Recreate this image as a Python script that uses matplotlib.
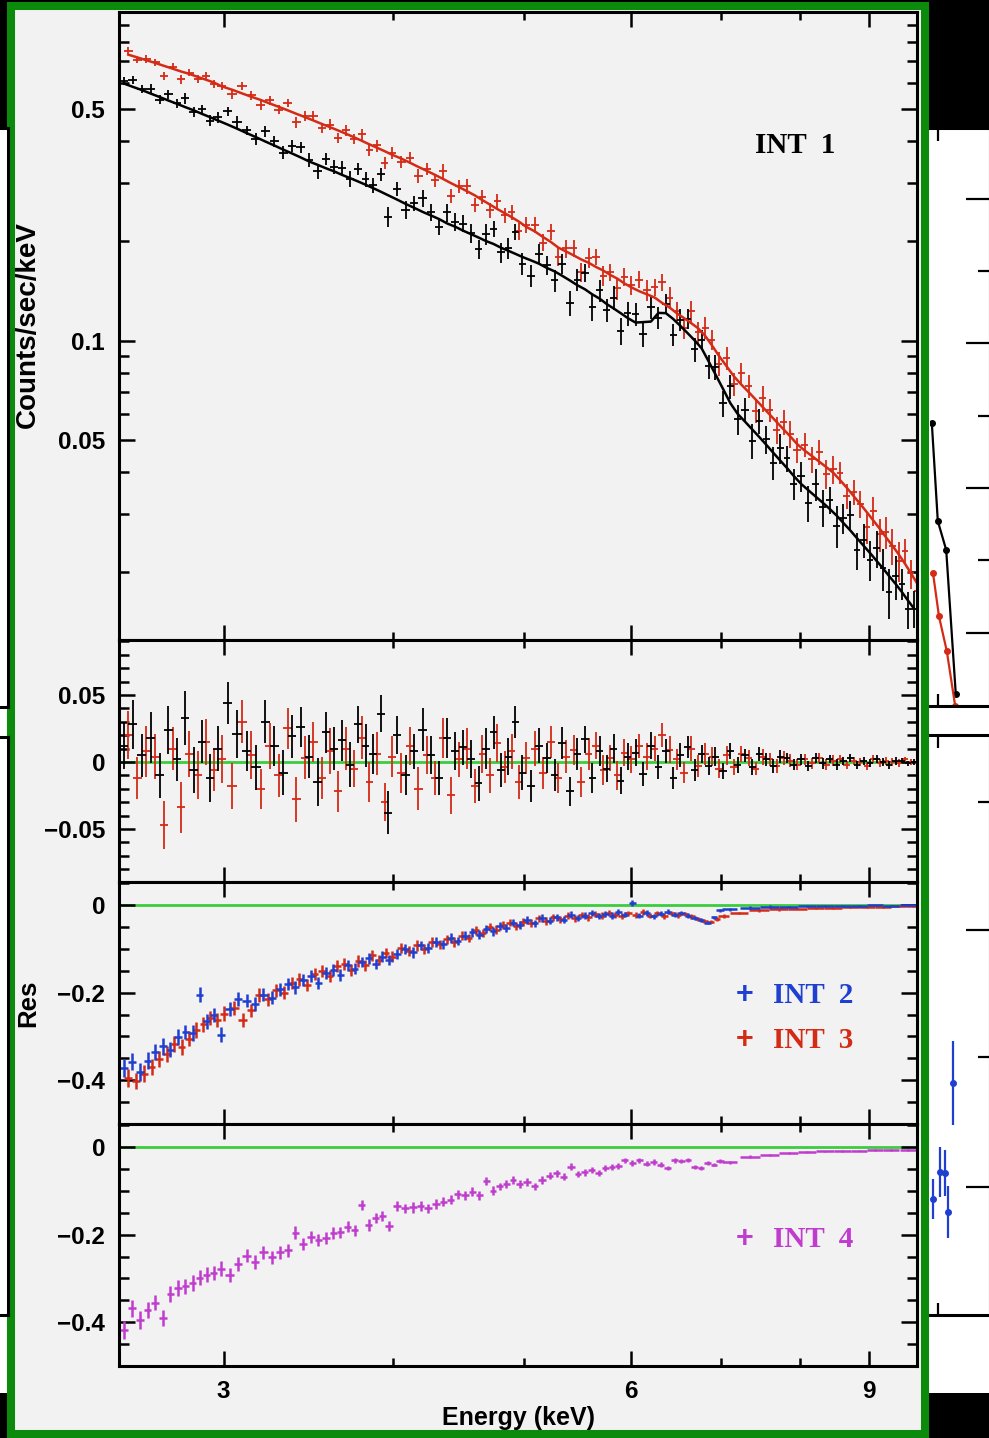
import numpy as np
import matplotlib
matplotlib.use("Agg")
import matplotlib.pyplot as plt
from matplotlib.patches import Rectangle
from matplotlib.ticker import FixedLocator, FixedFormatter, NullFormatter

# Energias (keV) de los canales INT 1, camara "negra"
energia1 = [2.53, 2.57, 2.61, 2.65, 2.69, 2.73, 2.77, 2.81, 2.85, 2.89, 2.93, 2.97,
            3.02, 3.07, 3.12, 3.17, 3.22, 3.27, 3.32, 3.37, 3.42, 3.47, 3.52, 3.57,
            3.62, 3.67, 3.72, 3.77, 3.82, 3.87, 3.92, 3.97,
            4.03, 4.09, 4.15, 4.21, 4.27, 4.33, 4.39, 4.45, 4.51, 4.57, 4.63, 4.69,
            4.75, 4.81, 4.87, 4.93, 4.99,
            5.06, 5.13, 5.20, 5.27, 5.34, 5.41, 5.48, 5.55, 5.62, 5.69, 5.76, 5.83, 5.90, 5.97,
            6.05, 6.13, 6.21, 6.29, 6.37, 6.45, 6.53, 6.61, 6.69, 6.77, 6.85, 6.93,
            7.02, 7.11, 7.20, 7.29, 7.38, 7.47, 7.56, 7.65, 7.74, 7.83, 7.92,
            8.02, 8.12, 8.22, 8.32, 8.42, 8.52, 8.62, 8.72, 8.82, 8.92, 9.02, 9.12,
            9.22, 9.32, 9.42, 9.52, 9.62, 9.72]
# canales de la camara "roja"
energia_roja = [2.55, 2.59, 2.63, 2.67, 2.71, 2.75, 2.79, 2.83, 2.87, 2.91, 2.95, 2.99,
                3.045, 3.095, 3.145, 3.195, 3.245, 3.295, 3.345, 3.395, 3.445, 3.495, 3.545, 3.595,
                3.645, 3.695, 3.745, 3.795, 3.845, 3.895, 3.945, 3.995,
                4.06, 4.12, 4.18, 4.24, 4.30, 4.36, 4.42, 4.48, 4.54, 4.60, 4.66, 4.72,
                4.78, 4.84, 4.90, 4.96, 5.02,
                5.095, 5.165, 5.235, 5.305, 5.375, 5.445, 5.515, 5.585, 5.655, 5.725, 5.795,
                5.865, 5.935, 6.005,
                6.09, 6.17, 6.25, 6.33, 6.41, 6.49, 6.57, 6.65, 6.73, 6.81, 6.89, 6.97,
                7.065, 7.155, 7.245, 7.335, 7.425, 7.515, 7.605, 7.695, 7.785, 7.875, 7.965,
                8.07, 8.17, 8.27, 8.37, 8.47, 8.57, 8.67, 8.77, 8.87, 8.97, 9.07, 9.17,
                9.27, 9.37, 9.47, 9.57, 9.67, 9.77]

# Modelo (counts/sec/keV)
modelo_negro = [0.599, 0.585, 0.572, 0.558, 0.545, 0.532, 0.520, 0.508, 0.497, 0.485, 0.474, 0.463,
                0.450, 0.437, 0.424, 0.412, 0.400, 0.389, 0.378, 0.368, 0.358, 0.348, 0.340, 0.332,
                0.325, 0.317, 0.310, 0.303, 0.296, 0.289, 0.282, 0.275,
                0.267, 0.259, 0.252, 0.245, 0.239, 0.233, 0.226, 0.221, 0.215, 0.210, 0.205, 0.200,
                0.196, 0.191, 0.187, 0.183, 0.179,
                0.175, 0.171, 0.166, 0.162, 0.157, 0.152, 0.147, 0.143, 0.138, 0.134, 0.129, 0.125,
                0.121, 0.117,
                0.1134, 0.1138, 0.1142, 0.1213, 0.1211, 0.1163, 0.1108, 0.1054, 0.1002, 0.0948,
                0.0867, 0.0792,
                0.0716, 0.0647, 0.0600, 0.0569, 0.0539, 0.0511, 0.0484, 0.0458, 0.0434, 0.0412, 0.0390,
                0.0369, 0.0353, 0.0338, 0.0324, 0.0310, 0.0296, 0.0281, 0.0267, 0.0253, 0.0240,
                0.0228, 0.0216, 0.0205, 0.0194, 0.0184, 0.0174, 0.0164, 0.0155]
modelo_rojo = [0.732, 0.718, 0.704, 0.691, 0.677, 0.664, 0.651, 0.640, 0.627, 0.615, 0.603, 0.587,
               0.573, 0.559, 0.546, 0.534, 0.521, 0.509, 0.497, 0.485, 0.474, 0.463, 0.452, 0.442,
               0.432, 0.422, 0.412, 0.402, 0.392, 0.383, 0.374, 0.365,
               0.355, 0.345, 0.335, 0.326, 0.317, 0.308, 0.299, 0.291, 0.283, 0.275, 0.266, 0.258,
               0.250, 0.243, 0.236, 0.229, 0.221,
               0.214, 0.206, 0.199, 0.191, 0.186, 0.181, 0.176, 0.172, 0.167, 0.163, 0.158, 0.154,
               0.149, 0.145,
               0.141, 0.138, 0.135, 0.130, 0.126, 0.121, 0.117, 0.113, 0.109, 0.1035, 0.0968, 0.0902,
               0.0836, 0.0779, 0.0736, 0.0699, 0.0663, 0.0629, 0.0597, 0.0567, 0.0539, 0.0513, 0.0487,
               0.0465, 0.0448, 0.0431, 0.0415, 0.0399, 0.0379, 0.0359, 0.0339, 0.0321, 0.0303,
               0.0286, 0.0270, 0.0254, 0.0240, 0.0226, 0.0212, 0.0198, 0.0185]

res_negro = [0.012, 0.028, 0.005, 0.018, -0.010, 0.024, 0.002, 0.033, -0.006, 0.015, -0.012, 0.010,
             0.044, 0.021, 0.008, -0.004, 0.030, 0.012, -0.008, 0.019, 0.026, 0.004, -0.015, 0.022,
             0.010, 0.016, -0.002, 0.028, 0.012, 0.006, 0.036, -0.038,
             0.020, -0.010, 0.008, 0.024, 0.005, -0.012, 0.018, 0.008, 0.011, 0.002, -0.016, 0.010,
             0.022, -0.006, 0.004, 0.030, -0.008,
             -0.018, 0.012, 0.003, -0.010, 0.014, -0.022, 0.006, 0.017, -0.012, 0.008, -0.005,
             0.010, -0.014, 0.004,
             0.007, -0.009, 0.012, -0.004, 0.008, -0.012, 0.005, 0.011, -0.006, 0.006, -0.003, 0.004,
             -0.007, 0.008, -0.002, 0.005, -0.004, 0.006, 0.002, -0.003, 0.004, 0.003, -0.002,
             0.002, -0.003, 0.003, -0.001, 0.002, -0.002, 0.001, 0.003, -0.002, 0.001, -0.001,
             0.002, 0.000, -0.002, 0.001, 0.001, -0.001, 0.000]
res_rojo = [0.020, -0.012, 0.008, 0.004, -0.047, 0.010, -0.034, 0.006, -0.010, 0.015, -0.006, 0.002,
            -0.018, 0.030, 0.005, -0.020, 0.012, -0.010, 0.025, -0.028, 0.003, 0.015, -0.012, 0.008,
            -0.022, 0.010, -0.005, 0.018, -0.015, 0.006, -0.030, 0.004,
            -0.008, 0.012, -0.020, 0.005, -0.012, 0.018, -0.025, 0.002, 0.010, -0.018, 0.006, -0.010,
            0.014, -0.004, 0.008, -0.015, 0.003,
            0.010, -0.008, 0.015, -0.012, 0.004, 0.009, -0.015, 0.006, 0.012, -0.006, 0.003,
            -0.010, 0.007, 0.002,
            0.012, 0.004, 0.010, 0.020, 0.009, 0.002, -0.008, 0.010, -0.003, 0.006, 0.004, -0.005,
            0.005, -0.004, 0.006, 0.003, -0.005, 0.004, 0.002, -0.003, 0.003, 0.001, -0.002,
            0.002, -0.001, 0.003, -0.002, 0.001, 0.002, -0.002, 0.001, 0.000, -0.003, 0.002,
            -0.001, 0.001, 0.000, -0.001, 0.002, 0.000, -0.001]
err_negro = [0.017, 0.018, 0.016, 0.019, 0.017, 0.018, 0.016, 0.020, 0.017, 0.016, 0.018, 0.017,
             0.016, 0.018, 0.015, 0.017, 0.016, 0.015, 0.017, 0.016, 0.015, 0.016, 0.018, 0.015,
             0.016, 0.015, 0.017, 0.014, 0.016, 0.015, 0.014, 0.016,
             0.014, 0.015, 0.013, 0.016, 0.014, 0.013, 0.015, 0.014, 0.013, 0.014, 0.013, 0.015,
             0.012, 0.013, 0.014, 0.012, 0.013,
             0.012, 0.013, 0.011, 0.012, 0.012, 0.011, 0.012, 0.010, 0.011, 0.011, 0.010, 0.011,
             0.010, 0.010,
             0.010, 0.009, 0.010, 0.009, 0.009, 0.008, 0.009, 0.008, 0.008, 0.007, 0.007, 0.007,
             0.006, 0.006, 0.006, 0.005, 0.006, 0.005, 0.005, 0.005, 0.005, 0.004, 0.004,
             0.004, 0.004, 0.004, 0.004, 0.003, 0.004, 0.003, 0.003, 0.003, 0.003, 0.003,
             0.003, 0.003, 0.003, 0.003, 0.002, 0.002, 0.002]
err_rojo = [0.018, 0.016, 0.019, 0.017, 0.018, 0.016, 0.019, 0.017, 0.018, 0.017, 0.016, 0.018,
            0.017, 0.016, 0.018, 0.015, 0.017, 0.016, 0.015, 0.017, 0.016, 0.015, 0.016, 0.017,
            0.015, 0.016, 0.014, 0.016, 0.015, 0.016, 0.014, 0.015,
            0.015, 0.014, 0.016, 0.014, 0.013, 0.015, 0.014, 0.013, 0.015, 0.013, 0.014, 0.013,
            0.014, 0.012, 0.013, 0.013, 0.012,
            0.013, 0.012, 0.012, 0.011, 0.012, 0.011, 0.011, 0.012, 0.010, 0.011, 0.010, 0.011,
            0.010, 0.010,
            0.009, 0.010, 0.009, 0.009, 0.010, 0.008, 0.008, 0.009, 0.008, 0.008, 0.007, 0.007,
            0.007, 0.006, 0.006, 0.006, 0.005, 0.006, 0.005, 0.005, 0.005, 0.005, 0.004,
            0.004, 0.004, 0.004, 0.004, 0.004, 0.003, 0.003, 0.003, 0.003, 0.003, 0.003,
            0.003, 0.003, 0.003, 0.003, 0.002, 0.002, 0.002]

# Energias de los residuos INT 2 / INT 4 y de INT 3
energia2 = [2.53, 2.565, 2.60, 2.635, 2.67, 2.705, 2.74, 2.775, 2.81, 2.845, 2.88, 2.915, 2.95, 2.985,
            3.03, 3.075, 3.12, 3.165, 3.21, 3.255, 3.30, 3.345, 3.39, 3.435, 3.48, 3.525, 3.57,
            3.615, 3.66, 3.705, 3.75, 3.795, 3.84, 3.885, 3.93, 3.975,
            4.03, 4.085, 4.14, 4.195, 4.25, 4.305, 4.36, 4.415, 4.47, 4.525, 4.58, 4.635, 4.69,
            4.745, 4.80, 4.855, 4.91, 4.965,
            5.03, 5.095, 5.16, 5.225, 5.29, 5.355, 5.42, 5.485, 5.55, 5.615, 5.68, 5.745, 5.81,
            5.875, 5.94,
            6.015, 6.09, 6.165, 6.24, 6.315, 6.39, 6.465, 6.54, 6.615, 6.69, 6.765, 6.84, 6.915, 6.99,
            7.1, 7.35, 7.6, 7.85, 8.1, 8.35, 8.6, 8.85, 9.1, 9.35, 9.62]
energia3 = [2.548, 2.583, 2.618, 2.653, 2.688, 2.723, 2.758, 2.793, 2.828, 2.863, 2.898, 2.933,
            2.968, 3.003,
            3.053, 3.098, 3.143, 3.188, 3.233, 3.278, 3.323, 3.368, 3.413, 3.458, 3.503, 3.548,
            3.593, 3.638, 3.683, 3.728, 3.773, 3.818, 3.863, 3.908, 3.953, 3.998,
            4.058, 4.113, 4.168, 4.223, 4.278, 4.333, 4.388, 4.443, 4.498, 4.553, 4.608, 4.663,
            4.718, 4.773, 4.828, 4.883, 4.938, 4.993,
            5.063, 5.128, 5.193, 5.258, 5.323, 5.388, 5.453, 5.518, 5.583, 5.648, 5.713, 5.778,
            5.843, 5.908, 5.973,
            6.053, 6.128, 6.203, 6.278, 6.353, 6.428, 6.503, 6.578, 6.653, 6.728, 6.803, 6.878,
            6.953, 7.028,
            7.22, 7.47, 7.72, 7.97, 8.22, 8.47, 8.72, 8.97, 9.22, 9.47, 9.70]
res_int2 = [-0.372, -0.358, -0.381, -0.355, -0.336, -0.323, -0.330, -0.302, -0.290, -0.292, -0.205,
            -0.265, -0.250, -0.296,
            -0.238, -0.215, -0.218, -0.226, -0.205, -0.212, -0.192, -0.180, -0.188, -0.172, -0.162,
            -0.178, -0.155, -0.148, -0.160, -0.138, -0.145, -0.130, -0.122, -0.135, -0.118, -0.125,
            -0.112, -0.100, -0.108, -0.092, -0.098, -0.085, -0.090, -0.075, -0.082, -0.070, -0.062,
            -0.068, -0.055, -0.060, -0.048, -0.052, -0.040, -0.045,
            -0.035, -0.042, -0.030, -0.036, -0.028, -0.034, -0.022, -0.030, -0.025, -0.018, -0.026,
            -0.020, -0.024, -0.016, -0.022,
            0.005, -0.024, -0.018, -0.026, -0.020, -0.015, -0.022, -0.018, -0.024, -0.030, -0.034,
            -0.040, -0.028, -0.012,
            -0.010, -0.006, -0.004, -0.004, -0.003, -0.002, -0.002, -0.002, -0.001, -0.002, -0.001]
res_int3 = [-0.395, -0.402, -0.385, -0.370, -0.352, -0.340, -0.318, -0.325, -0.305, -0.285, -0.272,
            -0.258, -0.262, -0.248,
            -0.235, -0.262, -0.240, -0.205, -0.215, -0.195, -0.200, -0.178, -0.170, -0.182, -0.158,
            -0.150, -0.162, -0.140, -0.135, -0.148, -0.128, -0.138, -0.115, -0.125, -0.110, -0.118,
            -0.098, -0.105, -0.092, -0.100, -0.085, -0.090, -0.078, -0.085, -0.070, -0.075, -0.058,
            -0.064, -0.050, -0.056, -0.045, -0.040, -0.047, -0.038,
            -0.042, -0.030, -0.036, -0.028, -0.032, -0.024, -0.030, -0.022, -0.028, -0.020, -0.024,
            -0.018, -0.022, -0.026, -0.019,
            -0.022, -0.016, -0.024, -0.019, -0.025, -0.018, -0.023, -0.020, -0.026, -0.032, -0.036,
            -0.038, -0.032, -0.025,
            -0.018, -0.012, -0.010, -0.008, -0.006, -0.007, -0.005, -0.005, -0.004, -0.003, -0.003]
res_int4 = [-0.418, -0.368, -0.395, -0.372, -0.355, -0.390, -0.335, -0.322, -0.318, -0.310, -0.298,
            -0.292, -0.288, -0.278,
            -0.292, -0.268, -0.248, -0.262, -0.240, -0.252, -0.240, -0.236, -0.196, -0.222, -0.205,
            -0.212, -0.208, -0.196, -0.195, -0.182, -0.190, -0.132, -0.178, -0.162, -0.158, -0.180,
            -0.135, -0.140, -0.138, -0.135, -0.140, -0.130, -0.125, -0.120, -0.108, -0.110, -0.102,
            -0.110, -0.078, -0.100, -0.090, -0.085, -0.075, -0.085,
            -0.080, -0.090, -0.075, -0.065, -0.060, -0.068, -0.045, -0.062, -0.058, -0.052, -0.060,
            -0.048, -0.045, -0.044, -0.030,
            -0.036, -0.030, -0.038, -0.034, -0.040, -0.048, -0.030, -0.032, -0.030, -0.046, -0.048,
            -0.036, -0.040, -0.032,
            -0.035, -0.022, -0.018, -0.014, -0.012, -0.010, -0.009, -0.008, -0.007, -0.007, -0.006]
err_int = [0.020, 0.019, 0.020, 0.019, 0.018, 0.019, 0.018, 0.018, 0.017, 0.018, 0.017, 0.017, 0.016, 0.017,
           0.016, 0.016, 0.015, 0.016, 0.015, 0.015, 0.015, 0.014, 0.015, 0.014, 0.014, 0.014, 0.013,
           0.014, 0.013, 0.013, 0.013, 0.012, 0.013, 0.012, 0.012, 0.012,
           0.012, 0.011, 0.012, 0.011, 0.011, 0.011, 0.010, 0.011, 0.010, 0.010, 0.010, 0.010, 0.009,
           0.010, 0.009, 0.009, 0.009, 0.009,
           0.009, 0.008, 0.009, 0.008, 0.008, 0.008, 0.008, 0.007, 0.008, 0.007, 0.007, 0.007, 0.007,
           0.007, 0.006,
           0.007, 0.006, 0.006, 0.006, 0.006, 0.005, 0.006, 0.005, 0.005, 0.005, 0.005, 0.004, 0.004, 0.004,
           0.003, 0.003, 0.003, 0.002, 0.002, 0.002, 0.002, 0.002, 0.002, 0.002, 0.002]

# Trozos de las figuras vecinas (recortadas por el borde de la imagen), escala 0-1
vec_negro_x = [0.03, 0.13, 0.27, 0.43]
vec_negro_y = [0.49, 0.32, 0.27, 0.02]
vec_rojo_x = [0.05, 0.15, 0.28, 0.42]
vec_rojo_y = [0.23, 0.155, 0.095, 0.0]
vec_azul_x = [0.05, 0.17, 0.25, 0.30, 0.38]
vec_azul_y = [0.20, 0.247, 0.245, 0.178, 0.40]
vec_azul_err = [0.035, 0.043, 0.040, 0.045, 0.072]

ROJO = "#d42b16"
AZUL = "#1f3fd0"
MAGENTA = "#c03ccf"
VERDE = "#3dcc3d"
FONDO = "#f2f2f2"

plt.rcParams["font.family"] = ["Liberation Sans", "DejaVu Sans"]
plt.rcParams["font.weight"] = "bold"

ANCHO, ALTO = 989, 1438
fig = plt.figure(figsize=(ANCHO / 100, ALTO / 100), dpi=100)
fig.patch.set_facecolor("black")


def caja(x0, y0, x1, y1):
    # rectangulo en pixeles (medidos desde arriba) -> coordenadas de figura
    return [x0 / ANCHO, 1 - y1 / ALTO, (x1 - x0) / ANCHO, (y1 - y0) / ALTO]


# fondo blanco de las figuras vecinas y marco verde
fig.add_artist(Rectangle((0, 1 - 1393 / ALTO), 1, (1393 - 128) / ALTO, transform=fig.transFigure,
                         facecolor="white", edgecolor="none", zorder=-10))
fig.add_artist(Rectangle((11 / ANCHO, 1 - 1434 / ALTO), (925 - 11) / ANCHO, (1434 - 6) / ALTO,
                         transform=fig.transFigure, facecolor=FONDO, edgecolor="#0b8a0b",
                         linewidth=5.8, zorder=-9))


def vecino(x0, y0, x1, y1, mayores, menores):
    axv = fig.add_axes(caja(x0, y0, x1, y1), zorder=-8)
    axv.set_facecolor("white")
    axv.set_xlim(0, 1)
    axv.set_ylim(0, 1)
    axv.set_xticks([0.13])
    axv.set_yticks(mayores)
    axv.set_yticks(menores, minor=True)
    axv.tick_params(which="both", direction="in", top=True, right=True, left=False, width=1.6,
                    labelbottom=False, labelleft=False)
    axv.xaxis.set_tick_params(length=9)
    axv.yaxis.set_tick_params(which="major", length=17)
    axv.yaxis.set_tick_params(which="minor", length=9)
    for s in axv.spines.values():
        s.set_linewidth(2.2)
    axv.spines["left"].set_visible(False)
    return axv


vs = vecino(930, 128, 990, 706, [0.126, 0.377, 0.628, 0.877], [0.253, 0.502, 0.753])
vs.plot(vec_negro_x, vec_negro_y, color="black", lw=1.6, marker="o", ms=4, clip_on=True)
vs.plot(vec_rojo_x, vec_rojo_y, color=ROJO, lw=1.6, marker="o", ms=4)
vi = vecino(930, 735, 990, 1315, [0.221, 0.664], [0.445, 0.884])
vi.errorbar(vec_azul_x, vec_azul_y, yerr=vec_azul_err, fmt="o", color=AZUL, ms=4, elinewidth=1.6)

# vecinos de la izquierda: solo asoman los bordes
for (y0, y1) in [(128, 707), (737, 1315)]:
    axl = fig.add_axes(caja(-52, y0, 8, y1), zorder=-8)
    axl.set_facecolor("white")
    axl.set_xticks([])
    axl.set_yticks([])
    for s in axl.spines.values():
        s.set_linewidth(2.2)

xmin, xmax = 2.51, 9.77


def formato(ax):
    ax.set_facecolor(FONDO)
    ax.set_xscale("log")
    ax.set_xlim(xmin, xmax)
    ax.xaxis.set_major_locator(FixedLocator([3, 6, 9]))
    ax.xaxis.set_minor_locator(FixedLocator([4, 5, 7, 8]))
    ax.xaxis.set_major_formatter(NullFormatter())
    ax.xaxis.set_minor_formatter(NullFormatter())
    ax.tick_params(which="both", direction="in", top=True, right=True, width=1.8,
                   labelsize=17.5, pad=10)
    ax.xaxis.set_tick_params(which="major", length=11, pad=10)
    ax.xaxis.set_tick_params(which="minor", length=6)
    ax.yaxis.set_tick_params(which="major", length=11.5)
    ax.yaxis.set_tick_params(which="minor", length=7)
    for s in ax.spines.values():
        s.set_linewidth(2.2)


ax1 = fig.add_axes(caja(119, 12, 917, 640))
ax2 = fig.add_axes(caja(119, 640, 917, 882))
ax3 = fig.add_axes(caja(119, 882, 917, 1124))
ax4 = fig.add_axes(caja(119, 1124, 917, 1366))

e1 = np.array(energia1)
xe1 = np.gradient(e1) / 2
er = np.array(energia_roja)
xer = np.gradient(er) / 2
e2 = np.array(energia2)
xe2 = np.gradient(e2) / 2
e3 = np.array(energia3)
xe3 = np.gradient(e3) / 2

# Panel superior: espectro y modelo
datos_negro = np.array(modelo_negro) + np.array(res_negro)
datos_rojo = np.array(modelo_rojo) + np.array(res_rojo)
ax1.errorbar(er, datos_rojo, xerr=xer, yerr=err_rojo, fmt="none", ecolor=ROJO, elinewidth=1.3)
ax1.errorbar(e1, datos_negro, xerr=xe1, yerr=err_negro, fmt="none", ecolor="black", elinewidth=1.3)
ax1.plot(er, modelo_rojo, color=ROJO, lw=1.8)
ax1.plot(e1, modelo_negro, color="black", lw=1.8)
formato(ax1)
ax1.set_yscale("log")
ax1.set_ylim(0.01245, 0.985)
ax1.yaxis.set_major_locator(FixedLocator([0.05, 0.1, 0.5]))
ax1.yaxis.set_major_formatter(FixedFormatter(["0.05", "0.1", "0.5"]))
ax1.yaxis.set_minor_locator(FixedLocator([0.02, 0.03, 0.04, 0.06, 0.07, 0.08, 0.09,
                                          0.2, 0.3, 0.4, 0.6, 0.7, 0.8, 0.9]))
ax1.yaxis.set_minor_formatter(NullFormatter())

# Residuos INT 1
ax2.axhline(0, color=VERDE, lw=2, zorder=1)
ax2.errorbar(er, res_rojo, xerr=xer, yerr=err_rojo, fmt="none", ecolor=ROJO, elinewidth=1.3)
ax2.errorbar(e1, res_negro, xerr=xe1, yerr=err_negro, fmt="none", ecolor="black", elinewidth=1.3)
formato(ax2)
ax2.set_ylim(-0.0896, 0.091)
ax2.yaxis.set_major_locator(FixedLocator([-0.05, 0, 0.05]))
ax2.yaxis.set_major_formatter(FixedFormatter(["\u22120.05", "0", "0.05"]))
ax2.yaxis.set_minor_locator(FixedLocator([-0.08, -0.07, -0.06, -0.04, -0.03, -0.02, -0.01,
                                          0.01, 0.02, 0.03, 0.04, 0.06, 0.07, 0.08, 0.09]))

# Residuos INT 2 y INT 3
ax3.axhline(0, color=VERDE, lw=2, zorder=1)
ax3.errorbar(e3, res_int3, xerr=xe3, yerr=err_int, fmt="none", ecolor=ROJO, elinewidth=1.8)
ax3.errorbar(e2, res_int2, xerr=xe2, yerr=err_int, fmt="none", ecolor=AZUL, elinewidth=1.8)
formato(ax3)

# Residuos INT 4
ax4.axhline(0, color=VERDE, lw=2, zorder=1)
ax4.errorbar(e2, res_int4, xerr=xe2, yerr=err_int, fmt="none", ecolor=MAGENTA, elinewidth=1.8)
formato(ax4)
for ax in (ax3, ax4):
    ax.set_ylim(-0.5, 0.0526)
    ax.yaxis.set_major_locator(FixedLocator([-0.4, -0.2, 0]))
    ax.yaxis.set_major_formatter(FixedFormatter(["\u22120.4", "\u22120.2", "0"]))
    ax.yaxis.set_minor_locator(FixedLocator([-0.45, -0.35, -0.3, -0.25, -0.15, -0.1, -0.05, 0.05]))
ax4.xaxis.set_major_formatter(FixedFormatter(["3", "6", "9"]))

# Textos
fig.text(28 / ANCHO, 1 - 325 / ALTO, "Counts/sec/keV", rotation=90, ha="center", va="center",
         fontsize=20, fontweight="bold")
fig.text(28 / ANCHO, 1 - 1003 / ALTO, "Res", rotation=90, ha="center", va="center",
         fontsize=18.5, fontweight="bold")
fig.text(518 / ANCHO, 1 - 1418 / ALTO, "Energy (keV)", ha="center", va="center",
         fontsize=18, fontweight="bold")

serif = ["Liberation Serif", "DejaVu Serif"]
fig.text(795 / ANCHO, 1 - 153 / ALTO, "INT  1", ha="center", va="baseline", fontsize=21,
         fontweight="bold", family=serif, color="black")
for texto, color, base in [("INT  2", AZUL, 1003), ("INT  3", ROJO, 1048), ("INT  4", MAGENTA, 1247)]:
    fig.text(745 / ANCHO, 1 - base / ALTO, "+", ha="center", va="baseline", fontsize=22,
             fontweight="bold", color=color)
    fig.text(773 / ANCHO, 1 - base / ALTO, texto, ha="left", va="baseline", fontsize=21,
             fontweight="bold", family=serif, color=color)

fig.savefig("out.png", dpi=100, facecolor=fig.get_facecolor())
